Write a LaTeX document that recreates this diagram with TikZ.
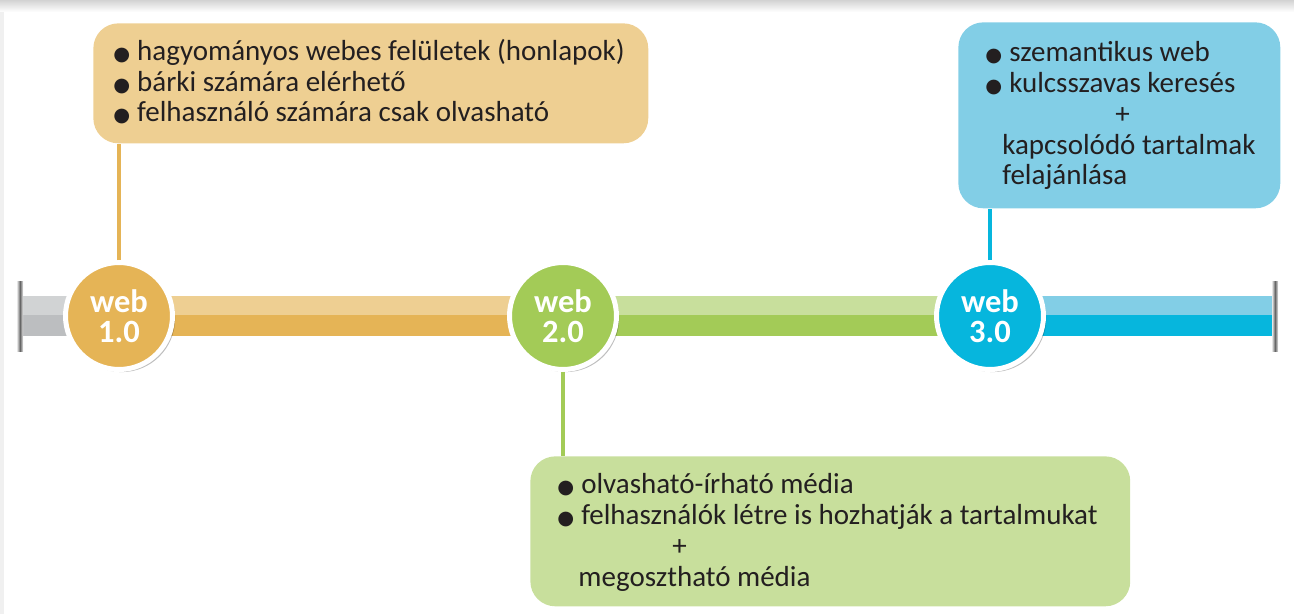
\documentclass[tikz,border=0pt]{standalone}
\usepackage{fontspec}
\setmainfont{Carlito}
\newfontfamily\symfont{DejaVu Sans}
\usetikzlibrary{shadows}

\definecolor{orangeL}{HTML}{EECF92}
\definecolor{orangeD}{HTML}{E5B456}
\definecolor{greenL}{HTML}{C8DF9C}
\definecolor{greenD}{HTML}{A3CB57}
\definecolor{blueL}{HTML}{82CEE6}
\definecolor{blueD}{HTML}{06B6DD}
\definecolor{grayL}{HTML}{D1D3D4}
\definecolor{grayD}{HTML}{BCBEC0}
\definecolor{txtgray}{HTML}{231F20}

\newcommand\bul{\makebox[13.6pt][l]{\symfont\fontsize{11}{11}\selectfont ●}}

\tikzset{
  webbox/.style={rounded corners=0.5cm, anchor=north west, inner sep=0pt},
  % base of a multi-line node = baseline of its last line
  webtxt/.style={anchor=base west, align=left, inner sep=0pt, text=txtgray,
    font=\fontsize{16.5}{17.6}\selectfont},
  webcirc/.style={circle, draw=white, line width=0.1cm, minimum size=2.14cm,
    inner sep=0pt, text=white, align=center,
    font=\bfseries\fontsize{18.5}{17}\selectfont,
    drop shadow={shadow xshift=1.5pt, shadow yshift=-1.5pt, opacity=0.25, fill=black}},
  conn/.style={line width=0.08cm},
  endcap/.style={left color=gray!20, right color=gray!20, middle color=gray!80!black},
}

\begin{document}
\begin{tikzpicture}[x=0.02cm, y=-0.02cm]
  \useasboundingbox (0,0) rectangle (1294,614);
  % frame shadow
  \shade[top color=gray!35, bottom color=white] (0,0) rectangle (1294,12);
  \fill[gray!12] (0,12) rectangle (4,614);

  % milestones (positions only, drawn after the bands)
  \coordinate (p1) at (119,316);
  \coordinate (p2) at (563,316);
  \coordinate (p3) at (990,316);

  % timeline bands
  \fill[grayL] (20,296) rectangle (p1 |- 0,315);
  \fill[grayD] (20,315) rectangle (p1 |- 0,336);
  \fill[orangeL] (p1 |- 0,296) rectangle (p2 |- 0,315);
  \fill[orangeD] (p1 |- 0,315) rectangle (p2 |- 0,336);
  \fill[greenL] (p2 |- 0,296) rectangle (p3 |- 0,315);
  \fill[greenD] (p2 |- 0,315) rectangle (p3 |- 0,336);
  \fill[blueL] (p3 |- 0,296) rectangle (1275,315);
  \fill[blueD] (p3 |- 0,315) rectangle (1275,336);
  \shade[endcap] (17,282) rectangle (23,352);
  \shade[endcap] (1272,282) rectangle (1278,352);

  \node[webcirc, fill=orangeD] (c1) at (p1) {web\\1.0};
  \node[webcirc, fill=greenD] (c2) at (p2) {web\\2.0};
  \node[webcirc, fill=blueD] (c3) at (p3) {web\\3.0};

  % boxes
  \node[webbox, fill=orangeL, minimum width=11.1cm, minimum height=2.4cm] (b1) at (93,23) {};
  \node[webbox, fill=greenL, minimum width=12cm, minimum height=3cm] (b2) at (530,456) {};
  \node[webbox, fill=blueL, minimum width=6.44cm, minimum height=3.72cm] (b3) at (958,22) {};

  % connectors
  \draw[conn, orangeD] (c1.north) -- (c1.north |- b1.south);
  \draw[conn, greenD] (c2.south) -- (c2.south |- b2.north);
  \draw[conn, blueD] (c3.north) -- (c3.north |- b3.south);

  % texts
  \node[webtxt] (t1) at (113,122) {\bul hagyományos webes felületek (honlapok)\\
    \bul bárki számára elérhető\\
    \bul felhasználó számára csak olvasható};
  \node[webtxt] (t2) at (557,586) {\bul olvasható-írható média\\
    \bul felhasználók létre is hozhatják a tartalmukat\\
    \hspace*{65.4pt}+\\
    \hspace*{12pt}megosztható média};
  \node[webtxt] (t3) at (985,185) {\bul szemantikus web\\
    \bul kulcsszavas keresés\\
    \hspace*{74pt}+\\
    \hspace*{9.7pt}kapcsolódó tartalmak\\
    \hspace*{9.7pt}felajánlása};
\end{tikzpicture}
\end{document}
